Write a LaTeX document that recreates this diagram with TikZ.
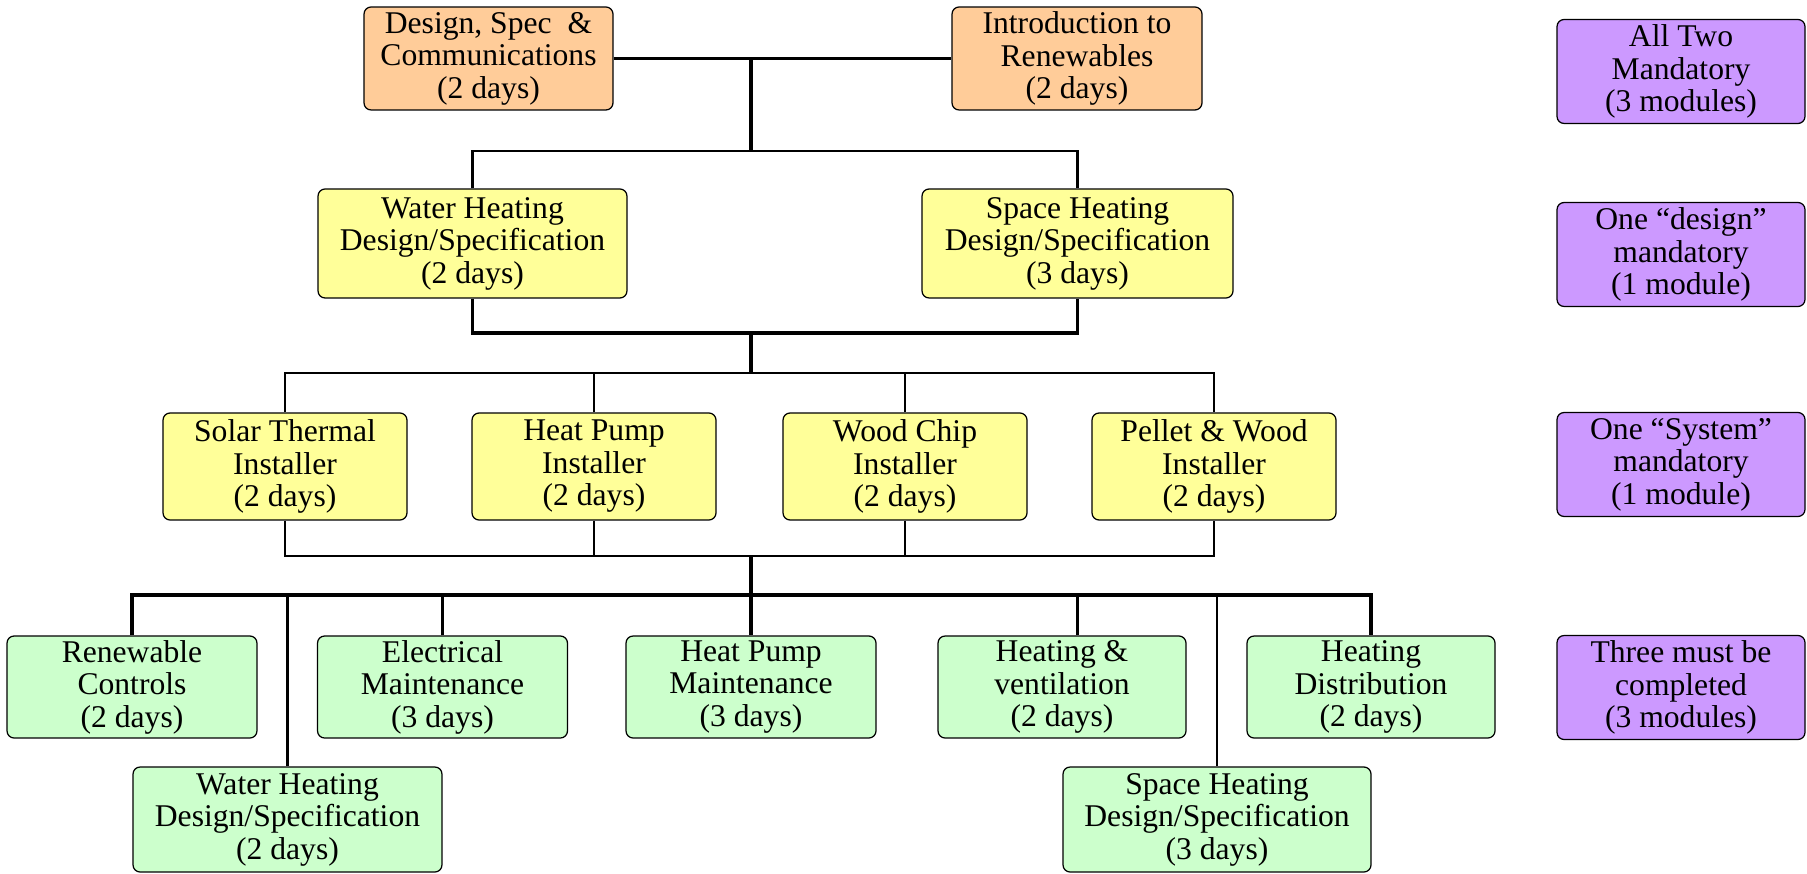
\documentclass[tikz,border=0pt]{standalone}
\usepackage{fontspec}
\setmainfont{Liberation Serif}
\usepackage{tikz}
\usetikzlibrary{positioning}
\usetikzlibrary{calc}

\definecolor{coreorange}{HTML}{FFCC99}
\definecolor{designyellow}{HTML}{FFFF99}
\definecolor{optiongreen}{HTML}{CCFFCC}
\definecolor{rulepurple}{HTML}{CC99FF}

\begin{document}
\begin{tikzpicture}[x=0.02cm, y=-0.02cm,
    module/.style={draw, line width=0.7pt, rounded corners=4pt, inner sep=0pt, align=center, font=\fontsize{18}{18.5}\selectfont},
    rule/.style={module, fill=rulepurple, minimum width=4.96cm, minimum height=2.08cm},
    bus/.style={line width=2.2pt},
    drop/.style={line width=1.5pt}]
    \path[use as bounding box] (0, 0) rectangle (1807, 874);

    \node[module, fill=coreorange, minimum width=4.98cm, minimum height=2.06cm] (design) at (488.5, 58.5) {Design, Spec~ \&\\Communications\\(2 days)};
    \node[module, fill=coreorange, minimum width=5cm, minimum height=2.06cm] (intro) at (1077, 58.5) {Introduction to\\Renewables\\(2 days)};

    \node[module, fill=designyellow, minimum width=6.18cm, minimum height=2.18cm] (whd) at (472.5, 243.5) {Water Heating\\Design/Specification\\(2 days)};
    \node[module, fill=designyellow, minimum width=6.22cm, minimum height=2.18cm] (shd) at (1077.5, 243.5) {Space Heating\\Design/Specification\\(3 days)};

    \node[module, fill=designyellow, minimum width=4.88cm, minimum height=2.14cm] (solar) at (285, 466.5) {Solar Thermal\\Installer\\(2 days)};
    \node[module, fill=designyellow, minimum width=4.88cm, minimum height=2.14cm] (hpi) at (594, 466.5) {Heat Pump\\Installer\\(2 days)};
    \node[module, fill=designyellow, minimum width=4.88cm, minimum height=2.14cm] (wood) at (905, 466.5) {Wood Chip\\Installer\\(2 days)};
    \node[module, fill=designyellow, minimum width=4.88cm, minimum height=2.14cm] (pellet) at (1214, 466.5) {Pellet \& Wood\\Installer\\(2 days)};

    \node[module, fill=optiongreen, minimum width=5cm, minimum height=2.04cm] (renew) at (132, 687) {Renewable\\Controls\\(2 days)};
    \node[module, fill=optiongreen, minimum width=5cm, minimum height=2.04cm] (elec) at (442.5, 687) {Electrical\\Maintenance\\(3 days)};
    \node[module, fill=optiongreen, minimum width=5cm, minimum height=2.04cm] (hpm) at (751, 687) {Heat Pump\\Maintenance\\(3 days)};
    \node[module, fill=optiongreen, minimum width=4.96cm, minimum height=2.04cm] (hv) at (1062, 687) {Heating \&\\ventilation\\(2 days)};
    \node[module, fill=optiongreen, minimum width=4.96cm, minimum height=2.04cm] (hdist) at (1371, 687) {Heating\\Distribution\\(2 days)};
    \node[module, fill=optiongreen, minimum width=6.18cm, minimum height=2.1cm] (whd2) at (287.5, 819.5) {Water Heating\\Design/Specification\\(2 days)};
    \node[module, fill=optiongreen, minimum width=6.16cm, minimum height=2.1cm] (shd2) at (1217, 819.5) {Space Heating\\Design/Specification\\(3 days)};

    \node[rule] (rule1) at (1681, 71.5) {All Two\\Mandatory\\(3 modules)};
    \node[rule] (rule2) at (1681, 254.5) {One “design”\\mandatory\\(1 module)};
    \node[rule] (rule3) at (1681, 464.5) {One “System”\\mandatory\\(1 module)};
    \node[rule] (rule4) at (1681, 687.5) {Three must be\\completed\\(3 modules)};

    \coordinate (top) at (751, 58.5);
    \coordinate (fork1) at (751, 151);
    \coordinate (join1) at (751, 333);
    \coordinate (fork2) at (751, 373);
    \coordinate (join2) at (751, 556);
    \coordinate (fork3) at (751, 595);

    \draw[bus] (design) -- (intro);
    \draw[bus] (top) -- (fork1);
    \draw[drop] (whd.north) |- (fork1) -| (shd.north);
    \draw[bus] (whd.south) |- (join1) -| (shd.south);
    \draw[bus] (join1) -- (fork2);
    \draw[drop] (solar.north) |- (fork2) -| (pellet.north);
    \draw[drop] (hpi.north) -- (hpi.north |- fork2);
    \draw[drop] (wood.north) -- (wood.north |- fork2);
    \draw[drop] (solar.south) |- (join2) -| (pellet.south);
    \draw[drop] (hpi.south) -- (hpi.south |- join2);
    \draw[drop] (wood.south) -- (wood.south |- join2);
    \draw[bus] (join2) -- (fork3);
    \draw[bus] (renew.north) |- (fork3) -| (hdist.north);
    \draw[drop] (elec.north) -- (elec.north |- fork3);
    \draw[bus] (hpm.north) -- (fork3);
    \draw[drop] (whd2.north) -- (whd2.north |- fork3);
    \draw[drop] (shd2.north) -- (shd2.north |- fork3);
    \draw[drop] (hv.north -| shd) -- (fork3 -| shd);
\end{tikzpicture}
\end{document}
